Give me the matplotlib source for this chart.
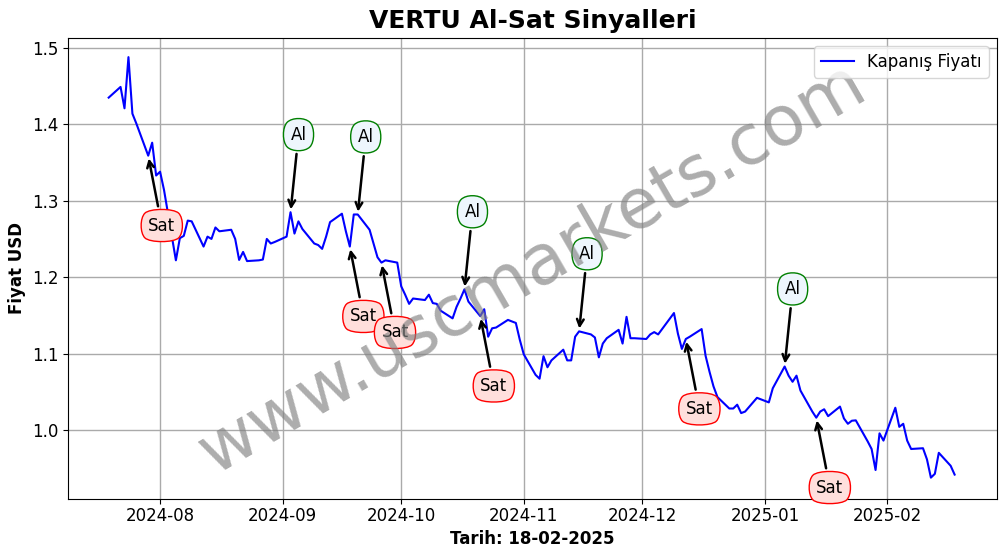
import matplotlib
matplotlib.use("Agg")
import matplotlib.pyplot as plt
import matplotlib.dates as mdates
import pandas as pd

dates = [
    "2024-07-19", "2024-07-22", "2024-07-23", "2024-07-24", "2024-07-25", "2024-07-26",
    "2024-07-29", "2024-07-30", "2024-07-31", "2024-08-01", "2024-08-02",
    "2024-08-05", "2024-08-06", "2024-08-07", "2024-08-08", "2024-08-09",
    "2024-08-12", "2024-08-13", "2024-08-14", "2024-08-15", "2024-08-16",
    "2024-08-19", "2024-08-20", "2024-08-21", "2024-08-22", "2024-08-23",
    "2024-08-26", "2024-08-27", "2024-08-28", "2024-08-29", "2024-08-30",
    "2024-09-02", "2024-09-03", "2024-09-04", "2024-09-05", "2024-09-06",
    "2024-09-09", "2024-09-10", "2024-09-11", "2024-09-12", "2024-09-13",
    "2024-09-16", "2024-09-17", "2024-09-18", "2024-09-19", "2024-09-20",
    "2024-09-23", "2024-09-24", "2024-09-25", "2024-09-26", "2024-09-27",
    "2024-09-30", "2024-10-01", "2024-10-02", "2024-10-03", "2024-10-04",
    "2024-10-07", "2024-10-08", "2024-10-09", "2024-10-10", "2024-10-11",
    "2024-10-14", "2024-10-15", "2024-10-16", "2024-10-17", "2024-10-18",
    "2024-10-21", "2024-10-22", "2024-10-23", "2024-10-24", "2024-10-25",
    "2024-10-28", "2024-10-29", "2024-10-30", "2024-10-31", "2024-11-01",
    "2024-11-04", "2024-11-05", "2024-11-06", "2024-11-07", "2024-11-08",
    "2024-11-11", "2024-11-12", "2024-11-13", "2024-11-14", "2024-11-15",
    "2024-11-18", "2024-11-19", "2024-11-20", "2024-11-21", "2024-11-22",
    "2024-11-25", "2024-11-26", "2024-11-27", "2024-11-28", "2024-11-29",
    "2024-12-02", "2024-12-03", "2024-12-04", "2024-12-05", "2024-12-06",
    "2024-12-09", "2024-12-10", "2024-12-11", "2024-12-12", "2024-12-13",
    "2024-12-16", "2024-12-17", "2024-12-18", "2024-12-19", "2024-12-20",
    "2024-12-23", "2024-12-24", "2024-12-25", "2024-12-26", "2024-12-27",
    "2024-12-30", "2024-12-31", "2025-01-02", "2025-01-03",
    "2025-01-06", "2025-01-07", "2025-01-08", "2025-01-09", "2025-01-10",
    "2025-01-13", "2025-01-14", "2025-01-15", "2025-01-16", "2025-01-17",
    "2025-01-20", "2025-01-21", "2025-01-22", "2025-01-23", "2025-01-24",
    "2025-01-27", "2025-01-28", "2025-01-29", "2025-01-30", "2025-01-31",
    "2025-02-03", "2025-02-04", "2025-02-05", "2025-02-06", "2025-02-07",
    "2025-02-10", "2025-02-11", "2025-02-12", "2025-02-13", "2025-02-14",
    "2025-02-17", "2025-02-18",
]
prices = [
    1.435, 1.449, 1.421, 1.488, 1.414, 1.401,
    1.359, 1.376, 1.333, 1.338, 1.314,
    1.222, 1.251, 1.254, 1.274, 1.273,
    1.240, 1.253, 1.250, 1.265, 1.260,
    1.262, 1.250, 1.2225, 1.233, 1.221,
    1.222, 1.223, 1.250, 1.244, 1.246,
    1.253, 1.285, 1.257, 1.273, 1.263,
    1.244, 1.242, 1.237, 1.253, 1.272,
    1.283, 1.260, 1.240, 1.282, 1.282,
    1.262, 1.244, 1.226, 1.219, 1.222,
    1.219, 1.188, 1.177, 1.165, 1.172,
    1.170, 1.177, 1.166, 1.165, 1.156,
    1.146, 1.161, 1.172, 1.184, 1.168,
    1.149, 1.158, 1.122, 1.133, 1.134,
    1.144, 1.142, 1.140, 1.118, 1.099,
    1.072, 1.067, 1.0965, 1.082, 1.091,
    1.105, 1.091, 1.091, 1.122, 1.129,
    1.125, 1.121, 1.095, 1.113, 1.120,
    1.131, 1.113, 1.148, 1.120, 1.120,
    1.119, 1.125, 1.128, 1.125, 1.132,
    1.153, 1.126, 1.106, 1.119, 1.122,
    1.132, 1.097, 1.076, 1.057, 1.043,
    1.028, 1.028, 1.033, 1.022, 1.024,
    1.042, 1.040, 1.036, 1.0545,
    1.083, 1.071, 1.063, 1.071, 1.0515,
    1.024, 1.016, 1.024, 1.027, 1.018,
    1.0305, 1.015, 1.008, 1.012, 1.0125,
    0.985, 0.975, 0.9475, 0.9955, 0.986,
    1.029, 1.004, 1.008, 0.986, 0.975,
    0.976, 0.9615, 0.9375, 0.9425, 0.970,
    0.953, 0.9415,
]

sell_dates = ["2024-07-29", "2024-09-18", "2024-09-26", "2024-10-21", "2024-12-12", "2025-01-14"]
buy_dates = ["2024-09-03", "2024-09-20", "2024-10-17", "2024-11-15", "2025-01-06"]

series = pd.Series(prices, index=pd.to_datetime(dates))

fig, ax = plt.subplots(figsize=(10.06, 5.54), dpi=100)
fig.subplots_adjust(left=0.0676, right=0.991, top=0.9315, bottom=0.0995)

ax.plot(series.index, series.values, color="blue", linewidth=1.5, label="Kapanış Fiyatı")

# signal labels sit about 0.1 above / below the price they point at
for d in sell_dates:
    t = pd.Timestamp(d)
    ax.annotate("Sat", xy=(t, series[t]), xytext=(t, series[t] - 0.098), fontsize=12,
                arrowprops=dict(arrowstyle="->", color="black", lw=1.8),
                bbox=dict(boxstyle="round4,pad=0.5,rounding_size=0.3", fc="#ffdfdc", ec="red"))
for d in buy_dates:
    t = pd.Timestamp(d)
    ax.annotate("Al", xy=(t, series[t]), xytext=(t, series[t] + 0.095), fontsize=12,
                arrowprops=dict(arrowstyle="->", color="black", lw=1.8),
                bbox=dict(boxstyle="round4,pad=0.5,rounding_size=0.3", fc="#eef6fd", ec="green"))

ax.text(0.5, 0.5, "www.uscmarkets.com", transform=ax.transAxes, fontsize=50,
        color="gray", alpha=0.65, rotation=30, ha="center", va="center")

ax.set_title("VERTU Al-Sat Sinyalleri", fontsize=18, fontweight="bold", pad=7)
ax.set_xlabel("Tarih: 18-02-2025", fontsize=12, fontweight="bold", labelpad=4)
ax.set_ylabel("Fiyat USD", fontsize=12, fontweight="bold")
ax.xaxis.set_major_locator(mdates.MonthLocator())
ax.xaxis.set_major_formatter(mdates.DateFormatter("%Y-%m"))
ax.tick_params(labelsize=12)
ax.tick_params(axis="x", pad=2)
ax.set_xlim(pd.Timestamp("2024-07-08 17:00"), pd.Timestamp("2025-02-28 17:00"))
ax.set_ylim(0.9097, 1.5131)
ax.grid(True, color="#aaaaaa", linewidth=1)
ax.legend(loc="upper right", fontsize=12)

fig.savefig("out.png", dpi=100)
